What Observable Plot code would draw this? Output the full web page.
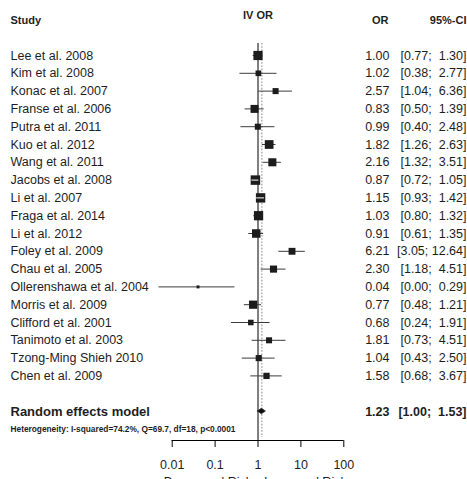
<!DOCTYPE html>
<html>
<head>
<meta charset="utf-8">
<script src="https://cdn.jsdelivr.net/npm/d3@7"></script>
<script src="https://cdn.jsdelivr.net/npm/@observablehq/plot@0.6"></script>
<style>
  body { margin: 0; background: #fff; }
  #chart svg { display: block; }
</style>
</head>
<body>
<div id="chart"></div>
<script>
// Individual studies: odds ratio with 95% confidence interval and random-effects weight (%)
const studies = [
  "Lee et al. 2008", "Kim et al. 2008", "Konac et al. 2007", "Franse et al. 2006",
  "Putra et al. 2011", "Kuo et al. 2012", "Wang et al. 2011", "Jacobs et al. 2008",
  "Li et al. 2007", "Fraga et al. 2014", "Li et al. 2012", "Foley et al. 2009",
  "Chau et al. 2005", "Ollerenshawa et al. 2004", "Morris et al. 2009", "Clifford et al. 2001",
  "Tanimoto et al. 2003", "Tzong-Ming Shieh 2010", "Chen et al. 2009"
];
const oddsRatio = [1.00, 1.02, 2.57, 0.83, 0.99, 1.82, 2.16, 0.87, 1.15, 1.03, 0.91, 6.21, 2.30, 0.04, 0.77, 0.68, 1.81, 1.04, 1.58];
const ciLower  = [0.77, 0.38, 1.04, 0.50, 0.40, 1.26, 1.32, 0.72, 0.93, 0.80, 0.61, 3.05, 1.18, 0.0049, 0.48, 0.24, 0.73, 0.43, 0.68];
const ciUpper  = [1.30, 2.77, 6.36, 1.39, 2.48, 2.63, 3.51, 1.05, 1.42, 1.32, 1.35, 12.64, 4.51, 0.29, 1.21, 1.91, 4.51, 2.50, 3.67];
const weights  = [7.7, 2.9, 3.3, 5.8, 3.3, 6.9, 5.9, 8.2, 8.0, 7.8, 6.6, 4.3, 4.6, 0.8, 6.1, 2.8, 3.3, 3.4, 3.6];

// Pooled estimate
const pooledLabel = "Random effects model";
const pooledOR = 1.23;
const pooledLower = 1.00;
const pooledUpper = 1.53;
const heterogeneity = "Heterogeneity: I-squared=74.2%, Q=69.7, df=18, p<0.0001";

// Axis and column headings
const xTicks = [0.01, 0.1, 1, 10, 100];
const headers = ["Study", "IV OR", "OR", "95%-CI"];
const sideLabels = ["Decreased Risk", "Increased Risk"];

// ---- layout ----
const W = 467, H = 479;
const font = "'Liberation Sans', Arial, Helvetica, sans-serif";
const ink = "#1e1e1e";
const firstRowPx = 55, rowStep = 17.8, axisPx = 440;
const toRow = px => (px - firstRowPx) / rowStep;
const pooledRow = studies.length + 1;
const xRange = [171.7, 343.3];
const maxBoxSide = 9.5;

const rows = studies.map((name, i) => ({
  name, row: i, or: oddsRatio[i], lo: ciLower[i], hi: ciUpper[i], w: weights[i]
}));

const fmt = v => v.toFixed(2);
const ciText = (lo, hi) => `[${fmt(lo)};\u00a0${fmt(hi).padStart(5, "\u00a0")}]`;

// CI segments that fall entirely inside their box are drawn in white
const xPx = d3.scaleLog([xTicks[0], xTicks[xTicks.length - 1]], xRange);
const wMax = d3.max(weights);
const boxSide = w => maxBoxSide * Math.sqrt(w / wMax);
const inside = rows.filter(d => {
  const half = boxSide(d.w) / 2, c = xPx(d.or);
  return xPx(d.lo) >= c - half && xPx(d.hi) <= c + half;
});

const diamondHalf = 0.16;
const diamond = [
  {x: pooledLower, y1: pooledRow, y2: pooledRow},
  {x: pooledOR, y1: pooledRow - diamondHalf, y2: pooledRow + diamondHalf},
  {x: pooledUpper, y1: pooledRow, y2: pooledRow}
];

const chart = Plot.plot({
  width: W,
  height: H,
  marginTop: 0, marginRight: 0, marginLeft: 0, marginBottom: H - axisPx,
  style: {fontFamily: font, fontSize: "12.5px", color: ink, background: "#fff"},
  x: {type: "log", domain: [xTicks[0], xTicks[xTicks.length - 1]], range: xRange},
  y: {type: "linear", domain: [0, pooledRow], range: [firstRowPx, firstRowPx + pooledRow * rowStep], axis: null},
  r: {type: "sqrt", domain: [0, wMax], range: [0, maxBoxSide / Math.sqrt(Math.PI)]},
  marks: [
    // reference lines: no effect (solid) and pooled estimate (dotted)
    Plot.ruleX([1], {y1: toRow(43), y2: toRow(axisPx), stroke: "#000", strokeWidth: 1}),
    Plot.ruleX([pooledOR], {y1: toRow(43), y2: toRow(437), stroke: "#9a9a9a", strokeWidth: 1.2, strokeDasharray: "1.6,1.6"}),

    // confidence intervals and study boxes
    Plot.ruleY(rows, {y: "row", x1: "lo", x2: "hi", stroke: "#3c3c3c", strokeWidth: 1}),
    Plot.dot(rows, {x: "or", y: "row", r: "w", symbol: "square", fill: "#1c1c1c", stroke: "none"}),
    Plot.ruleY(inside, {y: "row", x1: "lo", x2: "hi", stroke: "#fff", strokeWidth: 1}),

    // pooled diamond
    Plot.areaY(diamond, {x: "x", y1: "y1", y2: "y2", fill: "#111", stroke: "#111", strokeWidth: 0.6}),

    // column headings
    Plot.text([headers[0]], {frameAnchor: "left", dx: 10, y: toRow(20), textAnchor: "start", fontWeight: "bold", fontSize: 11, fill: ink}),
    Plot.text([headers[1]], {x: [1], y: toRow(15), fontWeight: "bold", fontSize: 11, fill: ink}),
    Plot.text([headers[2]], {frameAnchor: "left", dx: 388, y: toRow(20), textAnchor: "end", fontWeight: "bold", fontSize: 11, fill: ink}),
    Plot.text([headers[3]], {frameAnchor: "left", dx: 466, y: toRow(20), textAnchor: "end", fontWeight: "bold", fontSize: 11, fill: ink}),

    // study rows
    Plot.text(rows, {frameAnchor: "left", dx: 10, y: "row", text: "name", textAnchor: "start", fill: ink}),
    Plot.text(rows, {frameAnchor: "left", dx: 389, y: "row", text: d => fmt(d.or), textAnchor: "end", fill: ink}),
    Plot.text(rows, {frameAnchor: "left", dx: 466, y: "row", text: d => ciText(d.lo, d.hi), textAnchor: "end", fill: ink}),

    // pooled row
    Plot.text([pooledLabel], {frameAnchor: "left", dx: 10, y: [pooledRow], textAnchor: "start", fontWeight: "bold", fontSize: 13, fill: ink}),
    Plot.text([fmt(pooledOR)], {frameAnchor: "left", dx: 389, y: [pooledRow], textAnchor: "end", fontWeight: "bold", fontSize: 12.5, fill: ink}),
    Plot.text([ciText(pooledLower, pooledUpper)], {frameAnchor: "left", dx: 466, y: [pooledRow], textAnchor: "end", fontWeight: "bold", fontSize: 12.5, fill: ink}),
    Plot.text([heterogeneity], {frameAnchor: "left", dx: 10, y: [toRow(429)], textAnchor: "start", fontWeight: "bold", fontSize: 8.5, fill: ink, className: "het"}),

    // log axis
    Plot.ruleY([toRow(axisPx)], {x1: xTicks[0], x2: xTicks[xTicks.length - 1], stroke: "#000", strokeWidth: 1}),
    Plot.axisX(xTicks, {anchor: "bottom", tickSize: 7, tickPadding: 13, tickFormat: d => String(d), label: null, fontSize: 12.5, stroke: "#000", fill: ink}),

    // direction labels under the axis
    Plot.text([sideLabels[0]], {x: [1], y: [toRow(481)], dx: -6, textAnchor: "end", fill: ink}),
    Plot.text([sideLabels[1]], {x: [1], y: [toRow(481)], dx: 6, textAnchor: "start", fill: ink})
  ]
});

// the heterogeneity note is set slightly expanded so it runs up to the plot column
d3.select(chart).selectAll(".het text")
  .attr("textLength", 225)
  .attr("lengthAdjust", "spacingAndGlyphs");

document.getElementById("chart").append(chart);
</script>
</body>
</html>
